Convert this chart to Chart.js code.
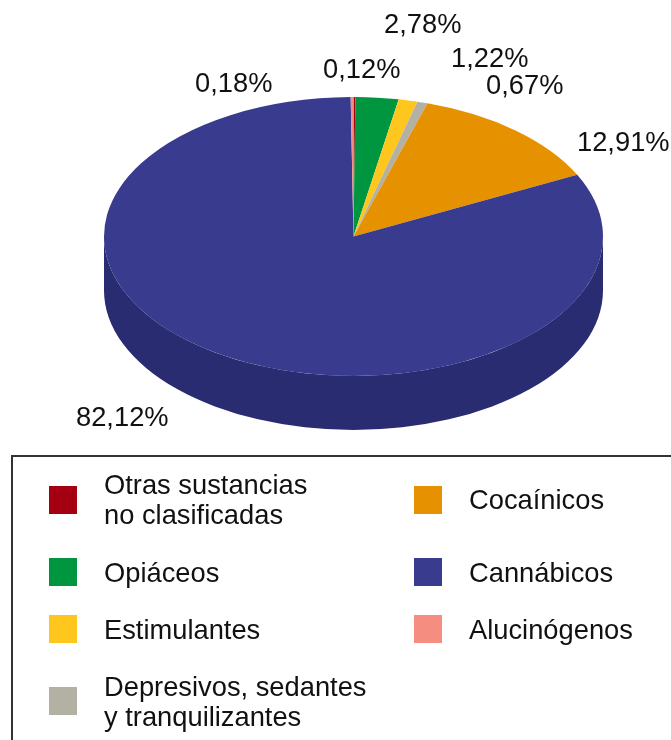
<!DOCTYPE html>
<html>
<head>
<meta charset="utf-8">
<style>
html,body{margin:0;padding:0;background:#fff;}
#wrap{position:relative;width:671px;height:740px;overflow:hidden;font-family:"Liberation Sans",sans-serif;color:#111;}
#mychart{position:absolute;left:0;top:0;}
.val{position:absolute;font-size:27.3px;line-height:30px;white-space:nowrap;}
#box{position:absolute;left:11px;top:455px;width:670px;height:300px;border:2px solid #333;box-sizing:border-box;}
.sw{position:absolute;width:28px;height:28px;}
.leg{position:absolute;font-size:27.3px;line-height:30px;white-space:nowrap;}
</style>
</head>
<body>
<div id="wrap">
<canvas id="mychart" width="671" height="740"></canvas>
<div id="box"></div>
</div>
<script src="https://cdn.jsdelivr.net/npm/chart.js@4"></script>
<script>
// slices go clockwise from 12 o'clock
var names = ["Otras sustancias\nno clasificadas","Opiáceos","Estimulantes","Depresivos, sedantes\ny tranquilizantes","Cocaínicos","Cannábicos","Alucinógenos"];
var values = [0.12,2.78,1.22,0.67,12.91,82.12,0.18];
var valueLabels = ["0,12%","2,78%","1,22%","0,67%","12,91%","82,12%","0,18%"];
var colors = ["#a50011","#009640","#ffc61e","#b2b1a3","#e69200","#393b8f","#f58d80"];
var sideColors = ["#7a000c","#006e2f","#bd9216","#848378","#aa6c00","#2a2c72","#b5685e"];

// where things go on the page
var labelPos = [[323,54],[384,9],[451,43],[486,70],[577,127],[76,402],[195,68]];
var legendPos = [[49,486,104,470],[49,558,104,558],[49,615,104,615],[49,687,104,672],[414,486,469,485],[414,558,469,558],[414,615,469,615]];
var cx = 353.5, cy = 236.5, rad = 249.5, squash = 0.559, depth = 54;

var pie3d = {
	id: "pie3d",
	beforeDatasetsDraw: function(chart){
		var ctx = chart.ctx;
		var arcs = chart.getDatasetMeta(0).data;
		var y0 = arcs[0].y;
		ctx.save();
		ctx.translate(0, cy);
		ctx.scale(1, squash);
		ctx.translate(0, -y0);
		// the wall, only the part facing us
		for(var i = 0 ; i < arcs.length ; i++)
		{
			var a = arcs[i];
			var s = Math.max(a.startAngle, 0);
			var e = Math.min(a.endAngle, Math.PI);
			if(e <= s) continue;
			var h = depth / squash;
			ctx.beginPath();
			ctx.arc(a.x, y0, a.outerRadius, s, e);
			ctx.arc(a.x, y0 + h, a.outerRadius, e, s, true);
			ctx.closePath();
			ctx.fillStyle = sideColors[i];
			ctx.fill();
		}
	},
	afterDatasetsDraw: function(chart){
		chart.ctx.restore();
	}
};

var ctx = document.getElementById('mychart').getContext('2d');
var chart = new Chart(ctx, {
	type: 'pie',
	data: {
		labels: names,
		datasets: [{
			data: values,
			backgroundColor: colors,
			borderWidth: 0,
			clip: false
		}]
	},
	options: {
		responsive: false,
		animation: false,
		devicePixelRatio: 1,
		layout: {padding: {left: cx - rad, right: 671 - cx - rad, top: 0, bottom: 240}},
		plugins: {legend: {display: false}, tooltip: {enabled: false}}
	},
	plugins: [pie3d]
});

var wrap = document.getElementById('wrap');
for(var i = 0 ; i < values.length ; i++)
{
	var v = document.createElement("div");
	v.className = "val";
	v.innerHTML = valueLabels[i];
	v.style.left = labelPos[i][0] + "px";
	v.style.top = labelPos[i][1] + "px";
	wrap.appendChild(v);

	var sw = document.createElement("div");
	sw.className = "sw";
	sw.style.background = colors[i];
	sw.style.left = legendPos[i][0] + "px";
	sw.style.top = legendPos[i][1] + "px";
	wrap.appendChild(sw);

	var t = document.createElement("div");
	t.className = "leg";
	t.innerHTML = names[i].replace("\n", "<br>");
	t.style.left = legendPos[i][2] + "px";
	t.style.top = legendPos[i][3] + "px";
	wrap.appendChild(t);
}
</script>
</body>
</html>
